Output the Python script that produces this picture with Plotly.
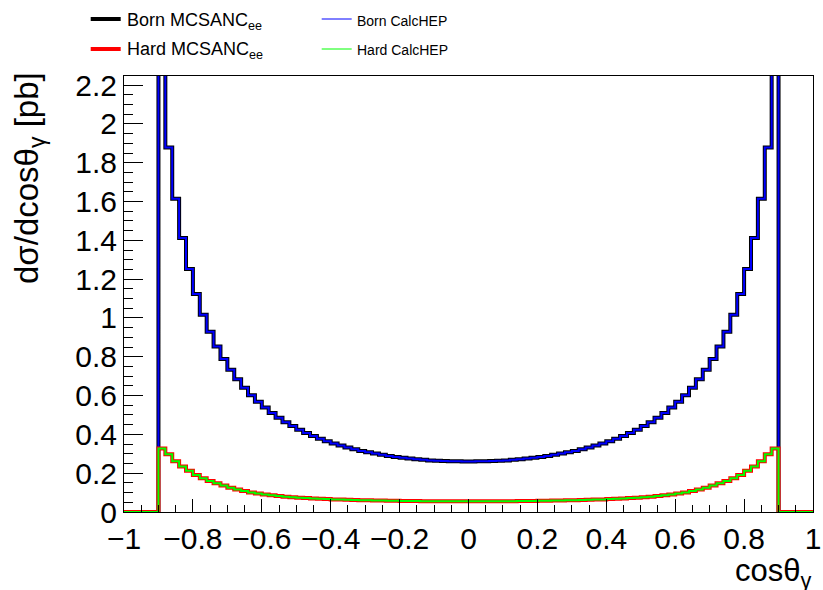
import plotly.graph_objects as go

# ---------------- data ----------------
# 100 bins of width 0.02 on cos(theta_gamma) in [-1, 1]
bin_edges = [round(-1 + 0.02 * i, 2) for i in range(101)]

born_mcsanc = [
    0, 0, 0, 0, 0,
    2.260, 1.879, 1.614, 1.412, 1.252, 1.123, 1.017, 0.929, 0.853, 0.789,
    0.733, 0.684, 0.640, 0.602, 0.568, 0.538, 0.510, 0.486, 0.463, 0.443,
    0.424, 0.407, 0.392, 0.378, 0.365, 0.353, 0.343, 0.333, 0.324, 0.315,
    0.308, 0.301, 0.295, 0.289, 0.284, 0.280, 0.276, 0.272, 0.269, 0.266,
    0.264, 0.263, 0.261, 0.261, 0.260,
    0.260, 0.261, 0.261, 0.263, 0.264,
    0.266, 0.269, 0.272, 0.276, 0.280, 0.284, 0.289, 0.295, 0.301, 0.308,
    0.315, 0.324, 0.333, 0.343, 0.353, 0.365, 0.378, 0.392, 0.407, 0.424,
    0.443, 0.463, 0.486, 0.510, 0.538, 0.568, 0.602, 0.640, 0.684, 0.733,
    0.789, 0.853, 0.929, 1.017, 1.123, 1.252, 1.412, 1.614, 1.879, 2.260,
    0, 0, 0, 0, 0,
]
born_calchep = list(born_mcsanc)

hard_mcsanc = [
    0, 0, 0, 0, 0,
    0.327, 0.297, 0.262, 0.235, 0.212, 0.191, 0.174, 0.160, 0.148, 0.136,
    0.125, 0.116, 0.108, 0.101, 0.095, 0.090, 0.086, 0.082, 0.079, 0.076,
    0.074, 0.072, 0.070, 0.068, 0.067, 0.065, 0.064, 0.063, 0.062, 0.061,
    0.060, 0.059, 0.059, 0.058, 0.058, 0.057, 0.057, 0.057, 0.056, 0.056,
    0.056, 0.056, 0.056, 0.056, 0.056,
    0.056, 0.056, 0.056, 0.056, 0.056,
    0.056, 0.056, 0.057, 0.057, 0.057, 0.058, 0.058, 0.059, 0.059, 0.060,
    0.061, 0.062, 0.063, 0.064, 0.065, 0.067, 0.068, 0.070, 0.072, 0.074,
    0.076, 0.079, 0.082, 0.086, 0.090, 0.095, 0.101, 0.108, 0.116, 0.125,
    0.136, 0.148, 0.160, 0.174, 0.191, 0.212, 0.235, 0.262, 0.297, 0.327,
    0, 0, 0, 0, 0,
]
hard_calchep = list(hard_mcsanc)

x_tick_vals = [-1, -0.8, -0.6, -0.4, -0.2, 0, 0.2, 0.4, 0.6, 0.8, 1]
x_tick_text = ["\u22121", "\u22120.8", "\u22120.6", "\u22120.4", "\u22120.2",
               "0", "0.2", "0.4", "0.6", "0.8", "1"]
y_tick_vals = [0, 0.2, 0.4, 0.6, 0.8, 1.0, 1.2, 1.4, 1.6, 1.8, 2.0, 2.2]
y_tick_text = ["0", "0.2", "0.4", "0.6", "0.8", "1", "1.2", "1.4", "1.6",
               "1.8", "2", "2.2"]

series_names = ["Born MCSANC<sub>ee</sub>", "Born CalcHEP",
                "Hard MCSANC<sub>ee</sub>", "Hard CalcHEP"]

# ---------------- figure ----------------
FONT = "Liberation Sans, Arial, Helvetica, sans-serif"

W, H = 823, 590
L, R, T, B = 124, 10, 76, 78
PW, PH = W - L - R, H - T - B


def px_x(px):
    return (px - L) / PW


def px_y(py):
    return (H - B - py) / PH


def step_trace(vals, color, width):
    return go.Scatter(
        x=bin_edges, y=list(vals) + [vals[-1]],
        mode="lines", line=dict(color=color, width=width, shape="hv"),
        showlegend=False, hoverinfo="skip",
    )


fig = go.Figure()
fig.add_trace(step_trace(born_mcsanc, "#000000", 4))
fig.add_trace(step_trace(born_calchep, "#0000ff", 2))
fig.add_trace(step_trace(hard_mcsanc, "#ff0000", 4))
fig.add_trace(step_trace(hard_calchep, "#00ff00", 2))

axis_common = dict(
    showgrid=False, zeroline=False, showline=True, mirror=True,
    linecolor="black", linewidth=1, ticks="inside", tickcolor="black",
    tickwidth=1, tickfont=dict(family=FONT, size=30, color="black"),
    automargin=False,
)

fig.update_xaxes(
    range=[-1, 1], tickmode="array", tickvals=x_tick_vals,
    ticktext=x_tick_text, ticklen=13,
    minor=dict(tickmode="linear", tick0=0, dtick=0.05, ticks="inside",
               ticklen=7, tickcolor="black", tickwidth=1),
    **axis_common,
)
fig.update_yaxes(
    range=[0, 2.247], tickmode="array", tickvals=y_tick_vals,
    ticktext=y_tick_text, ticklen=19,
    minor=dict(tickmode="linear", tick0=0, dtick=0.05, ticks="inside",
               ticklen=9, tickcolor="black", tickwidth=1),
    **axis_common,
)

annotations = [
    dict(text="d\u03c3/dcos\u03b8<sub>\u03b3</sub> [pb]", textangle=-90,
         xref="paper", yref="paper", x=px_x(29), y=px_y(178),
         xanchor="center", yanchor="middle", showarrow=False,
         font=dict(family=FONT, size=33, color="black")),
    dict(text="cos\u03b8<sub>\u03b3</sub>",
         xref="paper", yref="paper", x=1.0, y=px_y(551),
         xanchor="right", yanchor="top", showarrow=False,
         font=dict(family=FONT, size=31, color="black")),
]

legend_rows = [
    (series_names[0], "#000000", 4, 90.7, 120.7, 19, 125, 22, 18),
    (series_names[2], "#ff0000", 4, 90.7, 120.7, 49, 125, 51, 18),
    (series_names[1], "#0000ff", 1, 321.7, 351.7, 19, 355, 21, 14),
    (series_names[3], "#00ff00", 1, 321.7, 351.7, 49, 355, 50, 14),
]
shapes = []
for name, col, lw, x0, x1, ly, tx, ty, fs in legend_rows:
    shapes.append(dict(type="line", xref="paper", yref="paper",
                       x0=px_x(x0), x1=px_x(x1), y0=px_y(ly), y1=px_y(ly),
                       line=dict(color=col, width=lw)))
    annotations.append(dict(text=name, xref="paper", yref="paper",
                            x=px_x(tx), y=px_y(ty), xanchor="left",
                            yanchor="middle", showarrow=False,
                            font=dict(family=FONT, size=fs, color="black")))

fig.update_layout(
    width=W, height=H,
    margin=dict(l=L, r=R, t=T, b=B, pad=0, autoexpand=False),
    paper_bgcolor="white", plot_bgcolor="white",
    font=dict(family=FONT, color="black"),
    annotations=annotations, shapes=shapes,
    showlegend=False,
)

fig.write_html(
    "out.html",
    config={"displayModeBar": False},
    post_script="document.body.style.margin='0';"
                "document.body.style.overflow='hidden';",
)
